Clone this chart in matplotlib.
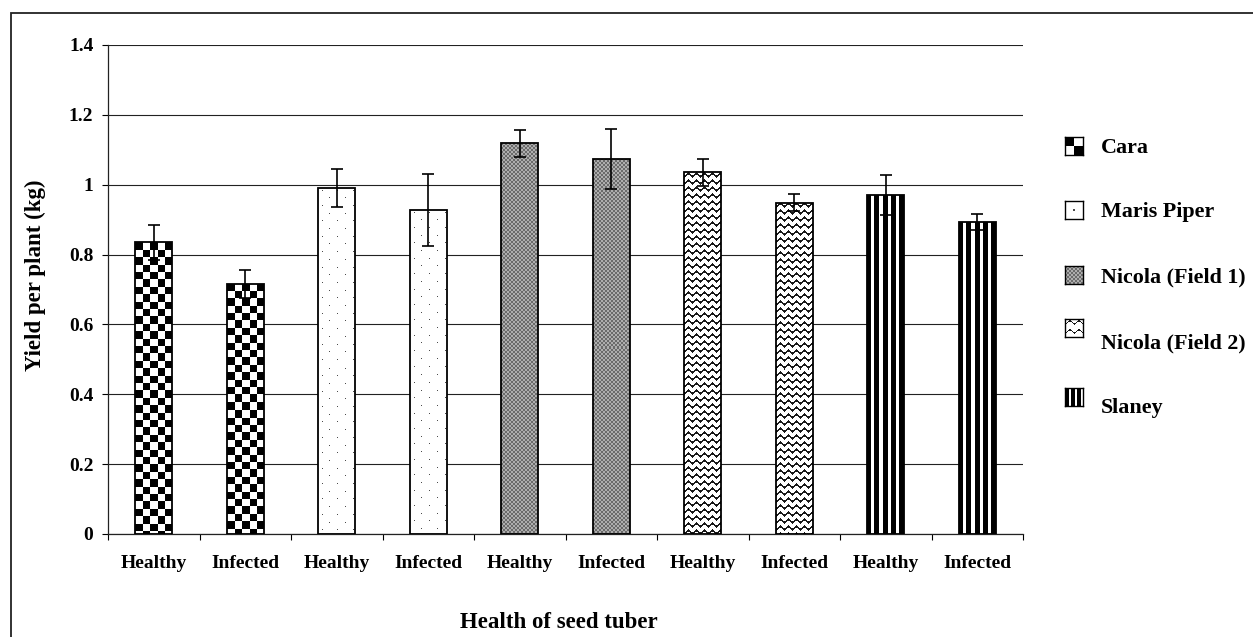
import numpy as np
import matplotlib
matplotlib.use('Agg')
import matplotlib.pyplot as plt
from matplotlib.patches import Rectangle

# ---------------- data ----------------
varieties = ['Cara', 'Maris Piper', 'Nicola (Field 1)', 'Nicola (Field 2)', 'Slaney']
health_labels = ['Healthy', 'Infected']
healthy_yield = [0.835, 0.991, 1.119, 1.036, 0.971]
infected_yield = [0.716, 0.928, 1.074, 0.948, 0.893]
healthy_err = [0.050, 0.054, 0.039, 0.039, 0.057]
infected_err = [0.040, 0.103, 0.086, 0.024, 0.024]
ytick_values = [0, 0.2, 0.4, 0.6, 0.8, 1.0, 1.2, 1.4]
ytick_labels = ['0', '0.2', '0.4', '0.6', '0.8', '1', '1.2', '1.4']
x_title = 'Health of seed tuber'
y_title = 'Yield per plant (kg)'

FONT = 'Liberation Serif'
W_PX, H_PX = 1253, 637

# ---------------- patterns ----------------
def pat_check(h, w, ncell=5):
    cell = w / ncell
    i, j = np.mgrid[0:h, 0:w]
    return ((np.floor(i / cell) + np.floor(j / cell)) % 2).astype(float)

def pat_dots(h, w, dx=15.5, dy=7.7):
    a = np.ones((h, w))
    k = 0
    r = 3.0
    while r < h:
        c = 4.0 + (k % 2) * dx / 2
        while c < w:
            a[int(r), int(c)] = 0.3
            c += dx
        r += dy
        k += 1
    return a

def pat_fine(h, w):
    i, j = np.mgrid[0:h, 0:w]
    return np.where(((i // 2) + (j // 2)) % 2 == 0, 0.42, 0.68)

def pat_zigzag(h, w, period=8.0, amp=3.0, spacing=7.0, thick=2.2):
    i, j = np.mgrid[0:h, 0:w]
    tri = amp * np.abs(((j / period) % 1.0) * 2 - 1)
    f = (i - tri) % spacing
    return np.where(f < thick, 0.1, 1.0)

def pat_stripes(h, w, period=8.3, black=5.0, offset=1.5):
    i, j = np.mgrid[0:h, 0:w]
    return np.where(((j + offset) % period) < black, 0.0, 1.0)

patterns = [pat_check, pat_dots, pat_fine, pat_zigzag, pat_stripes]

# ---------------- figure ----------------
fig = plt.figure(figsize=(W_PX / 100, H_PX / 100), dpi=100)
fig.patch.set_facecolor('white')
ax_l, ax_r, ax_t, ax_b = 108, 1023, 45, 534
ax = fig.add_axes([ax_l / W_PX, (H_PX - ax_b) / H_PX, (ax_r - ax_l) / W_PX, (ax_b - ax_t) / H_PX])

# outer chart frame
fig.patches.append(Rectangle((11 / W_PX, -0.2), 2.0, 0.2 + (H_PX - 13) / H_PX,
                             transform=fig.transFigure, facecolor='none',
                             edgecolor='#222222', linewidth=1.3, zorder=-5))

values, errs, labels, pat_of = [], [], [], []
for v in range(len(varieties)):
    values += [healthy_yield[v], infected_yield[v]]
    errs += [healthy_err[v], infected_err[v]]
    labels += health_labels
    pat_of += [patterns[v], patterns[v]]
x = np.arange(len(values))
bw = 0.4

ax.set_xlim(-0.5, len(values) - 0.5)
ax.set_ylim(0, 1.4)

bars = ax.bar(x, values, width=bw, facecolor='none', edgecolor='black', linewidth=1.3, zorder=3)

px_per_x = (ax_r - ax_l) / len(values)
px_per_y = (ax_b - ax_t) / 1.4
for xi, val, rect, pf in zip(x, values, bars.patches, pat_of):
    w = int(round(bw * px_per_x))
    h = int(round(val * px_per_y))
    img = pf(h, w)
    im = ax.imshow(img, cmap='gray', vmin=0, vmax=1, interpolation='nearest',
                   extent=(xi - bw / 2, xi + bw / 2, 0, val), aspect='auto', zorder=2.5)
    im.set_clip_path(rect)

ax.errorbar(x, values, yerr=errs, fmt='none', ecolor='black', elinewidth=1.2,
            capsize=4.3, capthick=1.2, zorder=4)

ax.set_xlim(-0.5, len(values) - 0.5)
ax.set_ylim(0, 1.4)
ax.set_aspect('auto')

# grid
ax.set_axisbelow(True)
ax.yaxis.grid(True, color='#222222', linewidth=0.8)
ax.xaxis.grid(False)

for s in ['top', 'right']:
    ax.spines[s].set_visible(False)
for s in ['left', 'bottom']:
    ax.spines[s].set_linewidth(0.9)
    ax.spines[s].set_color('#222222')

ax.set_yticks(ytick_values)
ax.set_yticklabels(ytick_labels, fontfamily=FONT, fontweight='bold', fontsize=14)
ax.tick_params(axis='y', direction='out', length=4, width=0.8, pad=6.5)

ax.set_xticks(x)
ax.set_xticklabels(labels, fontfamily=FONT, fontweight='bold', fontsize=14)
ax.set_xticks(np.arange(-0.5, len(values), 1.0), minor=True)
ax.tick_params(axis='x', which='major', length=0, pad=15)
ax.tick_params(axis='x', which='minor', direction='out', length=4.3, width=0.8)

fig.text(559 / W_PX, 1 - 622 / H_PX, x_title, ha='center', va='center',
         fontfamily=FONT, fontweight='bold', fontsize=16.5)
fig.text(35 / W_PX, 1 - 275 / H_PX, y_title, ha='center', va='center', rotation=90,
         fontfamily=FONT, fontweight='bold', fontsize=16.5)

# ---------------- legend ----------------
leg_marker_y = [146, 210, 275, 328, 397]
leg_text_y = [148, 212, 277, 343, 408]

def leg_check(h, w):
    return pat_check(h, w, ncell=2)
def leg_dots(h, w):
    a = np.ones((h, w)); a[h // 2 - 1:h // 2 + 1, w // 2 - 1:w // 2 + 1] = 0.3; return a
def leg_zig(h, w):
    return pat_zigzag(h, w, period=9.0, amp=4.0, spacing=9.0, thick=1.6)
def leg_stripes(h, w):
    return pat_stripes(h, w, period=6.0, black=4.0, offset=0.0)
leg_patterns = [leg_check, leg_dots, pat_fine, leg_zig, leg_stripes]

msz = 18
for name, my, ty, pf in zip(varieties, leg_marker_y, leg_text_y, leg_patterns):
    lax = fig.add_axes([1065 / W_PX, 1 - (my + msz / 2) / H_PX, msz / W_PX, msz / H_PX])
    lax.imshow(pf(msz, msz), cmap='gray', vmin=0, vmax=1, interpolation='nearest', aspect='auto')
    lax.set_xticks([]); lax.set_yticks([])
    for s in lax.spines.values():
        s.set_linewidth(1.0); s.set_color('black')
    fig.text(1101 / W_PX, 1 - ty / H_PX, name, ha='left', va='center',
             fontfamily=FONT, fontweight='bold', fontsize=15.8)

fig.savefig('out.png', dpi=100)
